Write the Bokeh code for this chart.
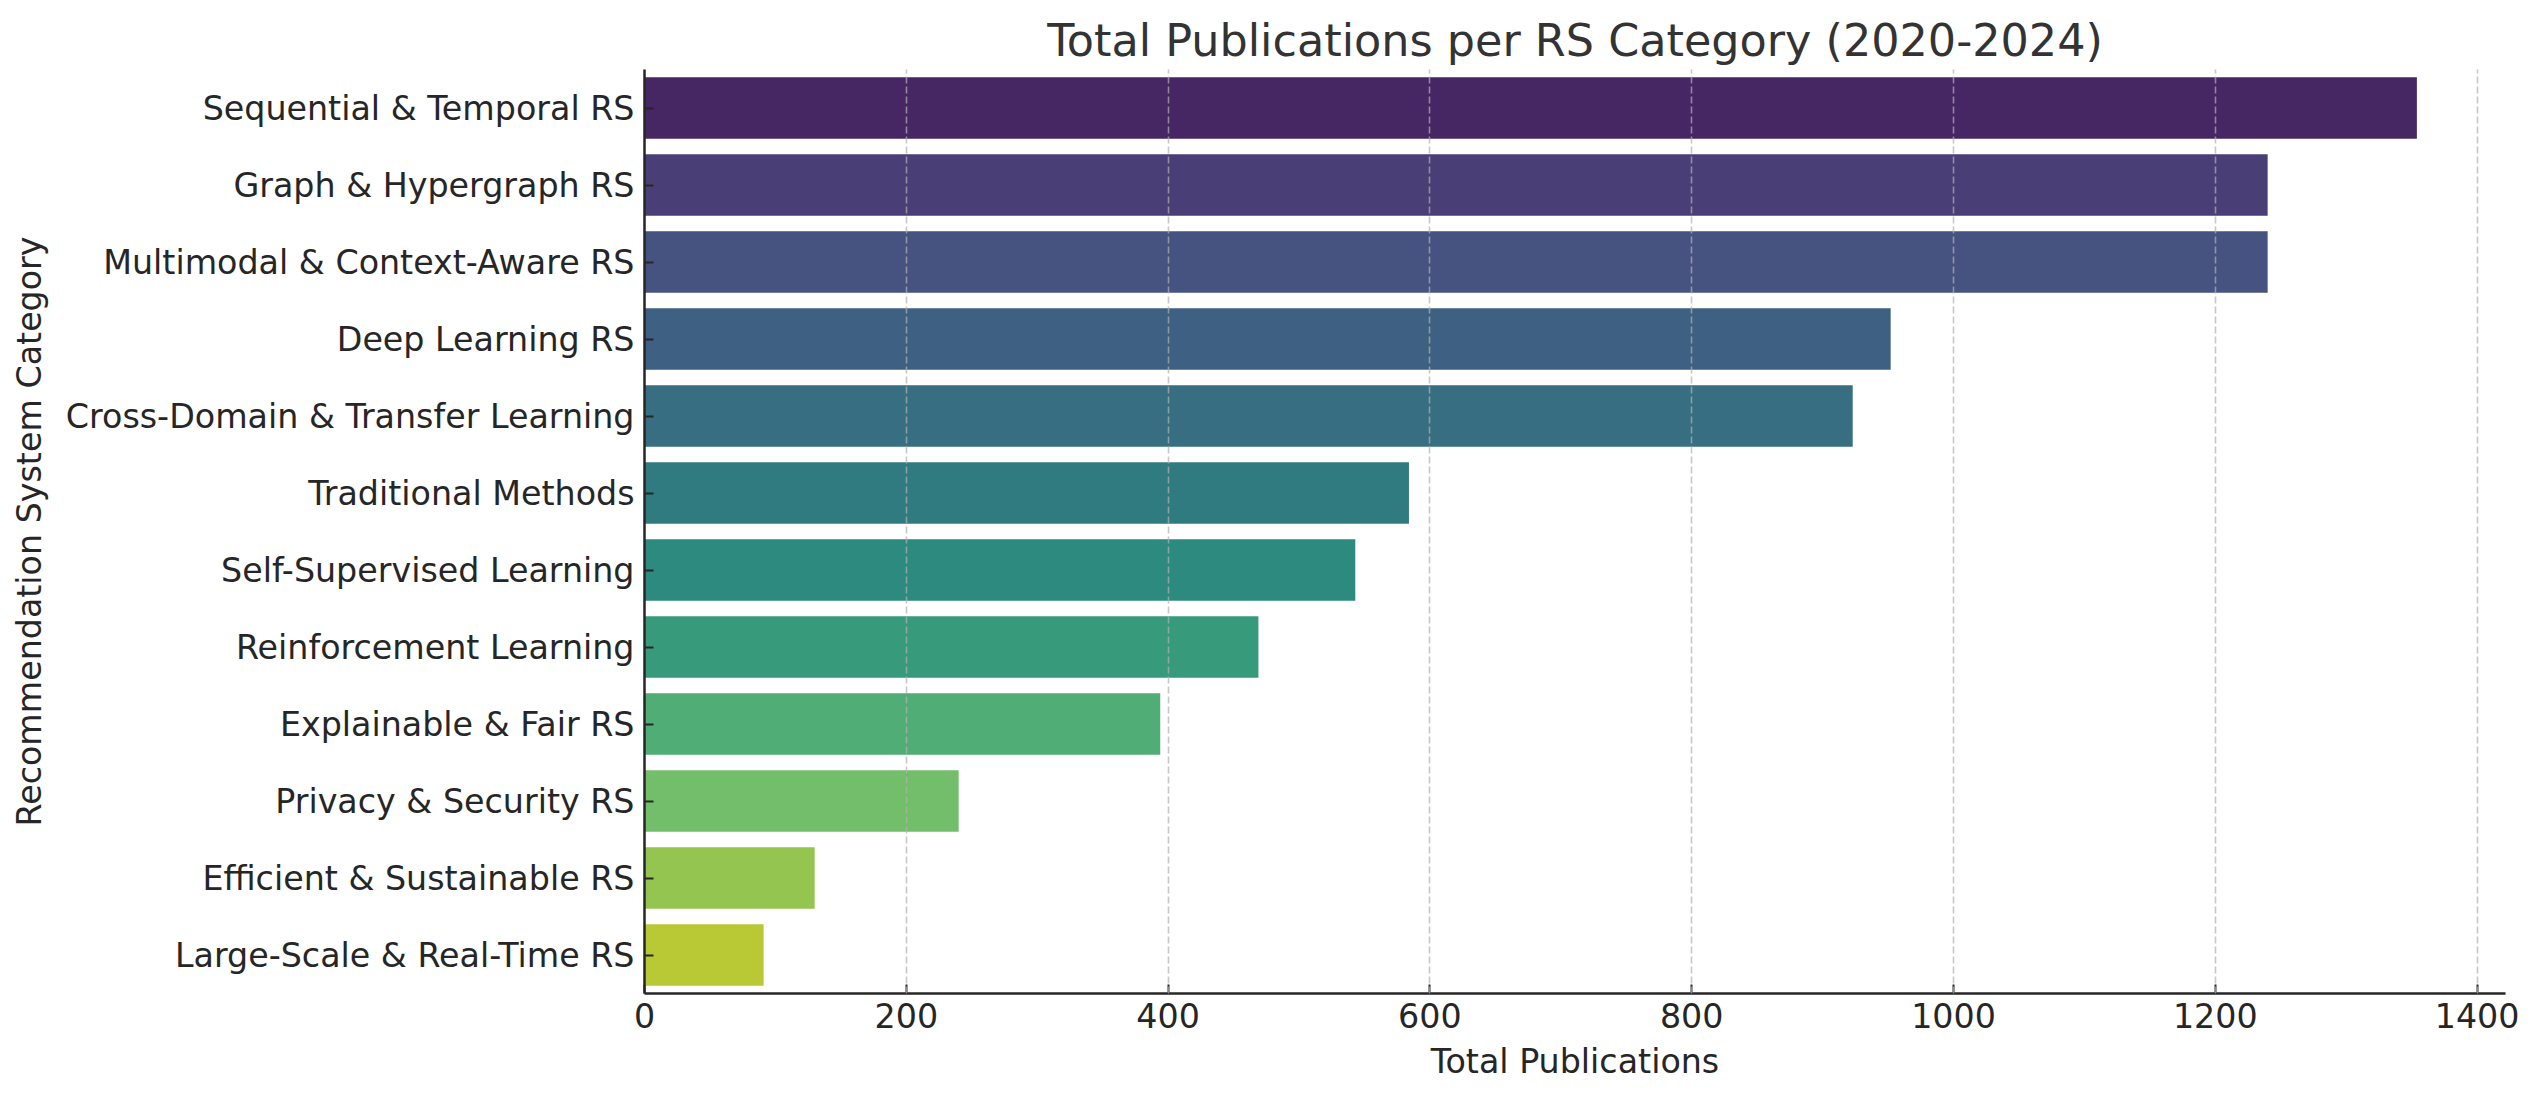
import colorsys
from bokeh.plotting import figure
from bokeh.models import ColumnDataSource, FactorRange, Range1d, FixedTicker
from bokeh.palettes import Viridis256
from bokeh.embed import file_html
from bokeh.resources import INLINE

categories = [
    "Sequential & Temporal RS",
    "Graph & Hypergraph RS",
    "Multimodal & Context-Aware RS",
    "Deep Learning RS",
    "Cross-Domain & Transfer Learning",
    "Traditional Methods",
    "Self-Supervised Learning",
    "Reinforcement Learning",
    "Explainable & Fair RS",
    "Privacy & Security RS",
    "Efficient & Sustainable RS",
    "Large-Scale & Real-Time RS",
]
publications = [1354, 1240, 1240, 952, 923, 584, 543, 469, 394, 240, 130, 91]
xticks = [0, 200, 400, 600, 800, 1000, 1200, 1400]

title_text = "Total Publications per RS Category (2020-2024)"
xlabel = "Total Publications"
ylabel = "Recommendation System Category"


def seaborn_viridis(n, sat=0.75):
    out = []
    for i in range(1, n + 1):
        x = i / (n + 1)
        idx = min(int(x * 256), 255)
        h = Viridis256[idx].lstrip("#")
        r, g, b = (int(h[k:k + 2], 16) / 255 for k in (0, 2, 4))
        hh, ll, ss = colorsys.rgb_to_hls(r, g, b)
        r, g, b = colorsys.hls_to_rgb(hh, ll, ss * sat)
        out.append("#%02x%02x%02x" % (round(r * 255), round(g * 255), round(b * 255)))
    return out


colors = seaborn_viridis(len(categories))

source = ColumnDataSource(dict(cat=categories, val=publications, color=colors))

FONT = "DejaVu Sans"
TXT = "#262626"

p = figure(
    width=2521,
    height=1093,
    y_range=FactorRange(factors=list(reversed(categories)), range_padding=0),
    x_range=Range1d(0, max(publications) * 1.05),
    output_backend="svg",
    toolbar_location=None,
    min_border_left=644,
    min_border_right=16,
    min_border_top=69,
    min_border_bottom=100,
)

p.hbar(y="cat", left=0, right="val", height=0.8, fill_color="color",
       line_color=None, source=source)

p.title.text = title_text
p.title.align = "center"
p.title.text_font = FONT
p.title.text_font_size = "44.5px"
p.title.text_font_style = "normal"
p.title.text_color = "#333333"
p.title.standoff = 8

p.outline_line_color = None

p.xaxis.ticker = FixedTicker(ticks=xticks)
p.xaxis.minor_tick_line_color = None
p.xaxis.axis_label = xlabel
p.yaxis.axis_label = ylabel

for ax in (p.xaxis[0], p.yaxis[0]):
    ax.axis_line_color = TXT
    ax.axis_line_width = 2.5
    ax.major_tick_line_color = TXT
    ax.major_tick_line_width = 2
    ax.major_tick_in = 9
    ax.major_tick_out = 0
    ax.major_label_text_font = FONT
    ax.major_label_text_font_size = "33.3px"
    ax.major_label_text_color = TXT
    ax.axis_label_text_font = FONT
    ax.axis_label_text_font_size = "33.3px"
    ax.axis_label_text_font_style = "normal"
    ax.axis_label_text_color = TXT

p.xaxis.major_label_standoff = 9
p.xaxis.axis_label_standoff = 11
p.yaxis.major_label_standoff = 10
p.yaxis.axis_label_standoff = 14

p.ygrid.grid_line_color = None
p.xgrid.grid_line_color = "#b0b0b0"
p.xgrid.grid_line_alpha = 0.7
p.xgrid.grid_line_width = 1.6
p.xgrid.grid_line_dash = "7 3"
p.xgrid.level = "annotation"

open("out.html", "w").write(file_html(p, INLINE))
